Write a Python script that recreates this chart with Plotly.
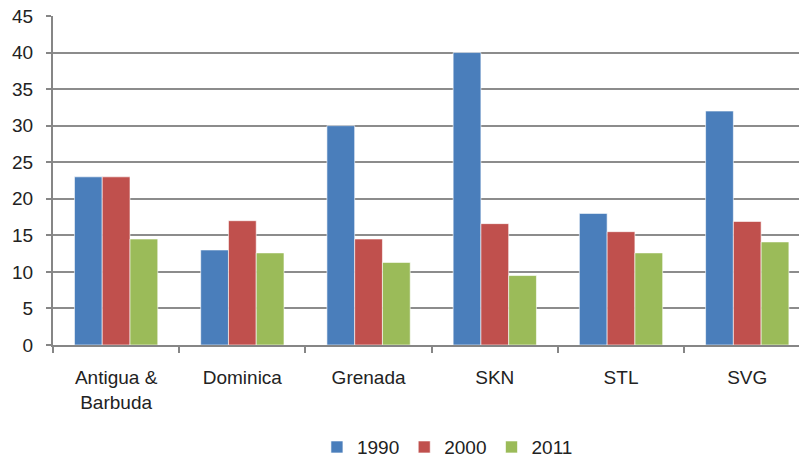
import plotly.graph_objects as go

categories = ["Antigua &<br>Barbuda", "Dominica", "Grenada", "SKN", "STL", "SVG"]
v1990 = [23.0, 13.0, 30.0, 40.0, 18.0, 32.0]
v2000 = [23.0, 17.0, 14.5, 16.6, 15.5, 16.9]
v2011 = [14.5, 12.6, 11.3, 9.5, 12.6, 14.1]
y_ticks = [0, 5, 10, 15, 20, 25, 30, 35, 40, 45]

series = [
    ("1990", v1990, "#4a7ebb"),
    ("2000", v2000, "#c0504d"),
    ("2011", v2011, "#9bbb59"),
]

fig = go.Figure()
for name, vals, color in series:
    fig.add_trace(go.Bar(
        x=categories, y=vals, name=name,
        marker=dict(color=color, line=dict(color="rgba(255,255,255,0.6)", width=1)),
    ))

font = dict(family="Liberation Sans, Arial, sans-serif", size=19, color="#222222")

fig.update_layout(
    width=799, height=460,
    margin=dict(l=53, r=0, t=16, b=115, autoexpand=False),
    paper_bgcolor="white", plot_bgcolor="white",
    font=font,
    barmode="group", bargap=0.34, bargroupgap=0,
    showlegend=True,
    legend=dict(orientation="h", x=0.56, xanchor="center", xref="container",
                y=0.028, yanchor="middle", yref="container",
                font=font, traceorder="normal", itemwidth=30),
)
fig.update_xaxes(
    range=[-0.5, 5.41], tickson="boundaries", automargin=False,
    showline=True, linecolor="#868686", linewidth=2,
    ticks="outside", ticklen=6, tickcolor="#868686", tickwidth=1.5,
    ticklabelstandoff=14,
    showgrid=False, tickfont=font,
)
fig.update_yaxes(
    range=[0, 45], tickvals=y_ticks, automargin=False,
    showline=True, linecolor="#868686", linewidth=2,
    ticks="outside", ticklen=5, tickcolor="#868686", tickwidth=1.5,
    ticklabelstandoff=9,
    showgrid=True, gridcolor="#8c8c8c", gridwidth=1.5,
    zeroline=False, tickfont=font,
)

# page body has a default 8px margin; drop it so the chart sits at the corner
fig.write_html("out.html", config={"displayModeBar": False},
               post_script="document.body.style.margin='0';")
